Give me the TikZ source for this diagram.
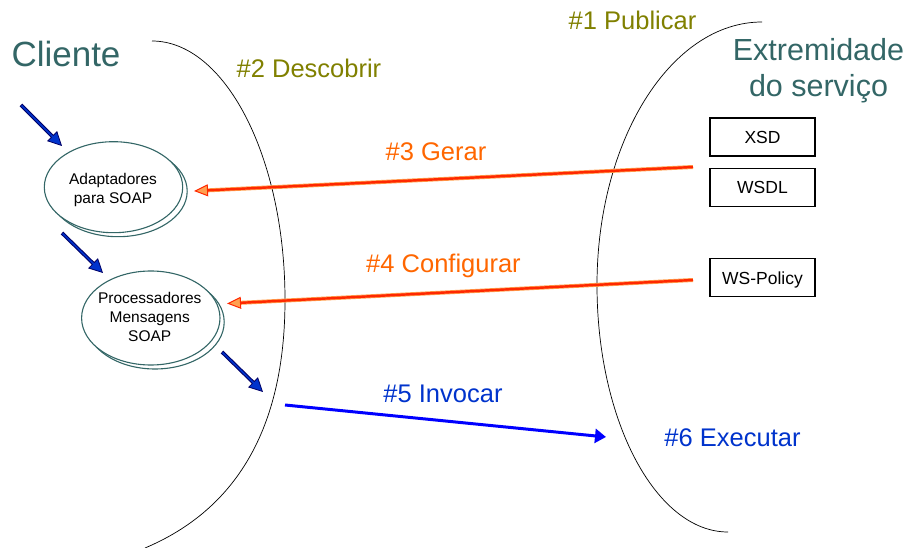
\documentclass[tikz,border=0pt]{standalone}
\usepackage{fontspec}
\setmainfont{Liberation Sans}
\usetikzlibrary{arrows.meta,shapes.geometric}

\definecolor{headteal}{RGB}{51,102,102}
\definecolor{stepolive}{RGB}{128,128,0}
\definecolor{steporange}{RGB}{255,102,0}
\definecolor{stepblue}{RGB}{0,51,204}
\definecolor{callblue}{RGB}{0,0,255}
\definecolor{flownavy}{RGB}{0,0,102}
\definecolor{genred}{RGB}{255,40,0}
\definecolor{genglow}{RGB}{255,160,80}

\begin{document}
\begin{tikzpicture}[
  x=1pt, y=-1pt,
  heading/.style={text=headteal, inner sep=0pt, anchor=base},
  steplabel/.style={font=\fontsize{25.5}{30}\selectfont, inner sep=0pt, anchor=base},
  artifact/.style={draw, line width=1.3pt, minimum width=105pt, minimum height=38pt,
    inner sep=0pt, text height=12.5pt, text depth=0pt,
    font=\fontsize{17.5}{20}\selectfont},
  compring/.style={draw=headteal, line width=1.1pt, fill=white},
  complabel/.style={inner sep=0pt, anchor=base, font=\fontsize{15.5}{19.2}\selectfont},
  boundary/.style={draw=black, line width=0.7pt},
  genarrow/.style={draw=genred, line width=2.4pt,
    -{Triangle[length=14pt, width=12pt, line width=1pt, fill=genglow]},
    preaction={draw=genglow, line width=4pt, -, shorten >=10pt}},
  callarrow/.style={draw=callblue, line width=3pt,
    -{Triangle[length=11pt, width=14pt]}},
  flowarrow/.style={draw=flownavy, line width=3.6pt,
    -{Triangle[length=14pt, width=14pt, line width=0.8pt, fill=stepblue]},
    postaction={draw=stepblue, line width=1.5pt, -, shorten >=12pt, shorten <=0.8pt}},
]
\useasboundingbox (0,0) rectangle (911,548);

% service boundaries
\draw[boundary] (152,41) .. controls (225,41) and (285,157) .. (285,300)
                .. controls (285,430) and (235,510) .. (145,548);
\draw[boundary] (762,22) .. controls (671,22) and (597,140) .. (597,285)
                .. controls (597,421) and (656,532) .. (728,532);

% headings
\node[heading, font=\fontsize{35}{40}\selectfont] (client) at (66,67) {Cliente};
\node[heading, font=\fontsize{30.5}{36}\selectfont] (svc) at (818.5,61)
  {\begin{tabular}[t]{@{}c@{}}Extremidade\\do serviço\end{tabular}};

% step labels
\node[steplabel, text=stepolive] (publish) at (632.5,30) {\#1 Publicar};
\node[steplabel, text=stepolive] (discover) at (309,77.3) {\#2 Descobrir};
\node[steplabel, text=steporange] (generate) at (436,161) {\#3 Gerar};
\node[steplabel, text=steporange] (configure) at (443.5,272.7) {\#4 Configurar};
\node[steplabel, text=stepblue] (invoke) at (443,402.7) {\#5 Invocar};
\node[steplabel, text=stepblue] (execute) at (732.5,446) {\#6 Executar};

% service artifacts
\node[artifact] (xsd) at (762.5,137) {XSD};
\node[artifact] (wsdl) at (762.5,187.5) {WSDL};
\node[artifact] (policy) at (762.5,277.8) {WS-Policy};

% client components (stacked ellipses)
\draw[compring] (118,191.2) ellipse [x radius=69.2, y radius=45.5];
\node[ellipse, compring, minimum width=138.4pt, minimum height=91pt, inner sep=0pt]
  (adapt) at (113.5,187.2) {};
\node[complabel] (adaptlbl) at (113,184.3)
  {\begin{tabular}[t]{@{}c@{}}Adaptadores\\para SOAP\end{tabular}};

\draw[compring] (155,322) ellipse [x radius=69.2, y radius=47];
\node[ellipse, compring, minimum width=138.4pt, minimum height=94pt, inner sep=0pt]
  (proc) at (150.8,318) {};
\node[complabel] (proclbl) at (149.7,303.3)
  {\begin{tabular}[t]{@{}c@{}}Processadores\\Mensagens\\SOAP\end{tabular}};

% connector end points
\coordinate (gen-src) at (693,167);
\coordinate (gen-dst) at (194,191);
\coordinate (cfg-src) at (693,280);
\coordinate (cfg-dst) at (227,303.5);
\coordinate (call-src) at (285,405);
\coordinate (call-dst) at (606,437);
\coordinate (in-src) at (21,105);
\coordinate (in-dst) at (62,146);
\coordinate (mid-src) at (62,233);
\coordinate (mid-dst) at (103,273);
\coordinate (out-src) at (222,352);
\coordinate (out-dst) at (263,392);

% connectors
\draw[genarrow] (gen-src) -- (gen-dst);
\draw[genarrow] (cfg-src) -- (cfg-dst);
\draw[callarrow] (call-src) -- (call-dst);
\draw[flowarrow] (in-src) -- (in-dst);
\draw[flowarrow] (mid-src) -- (mid-dst);
\draw[flowarrow] (out-src) -- (out-dst);
\end{tikzpicture}
\end{document}
